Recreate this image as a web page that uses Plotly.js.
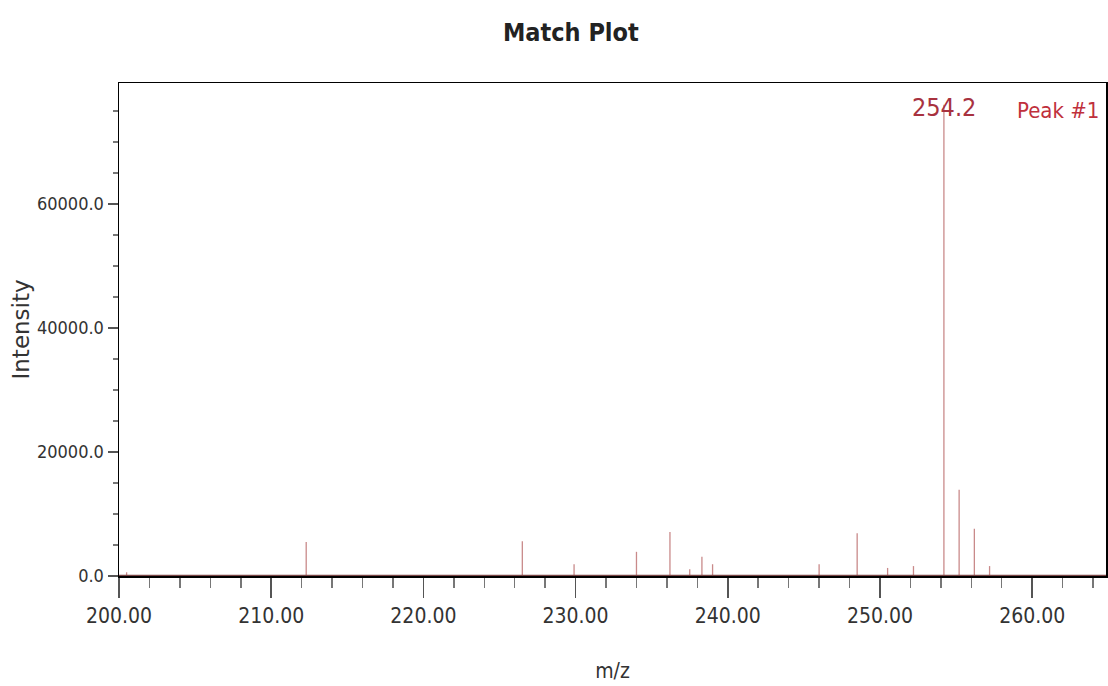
<!DOCTYPE html>
<html>
<head>
<meta charset="utf-8">
<script src="https://cdn.plot.ly/plotly-3.0.1.min.js"></script>
<style>html,body{margin:0;padding:0;background:#fff;}#chart{width:1108px;height:686px;}</style>
</head>
<body>
<div id="chart"></div>
<script>
// m/z values of the peaks and their intensities
var mz = [200.5, 212.3, 226.5, 229.9, 234.0, 236.2, 237.5, 238.3, 239.0, 246.0, 248.5, 250.5, 252.2, 254.2, 255.2, 256.2, 257.2];
var intensity = [600, 5500, 5600, 1900, 3900, 7100, 1100, 3100, 1900, 1900, 6900, 1300, 1600, 76000, 13900, 7600, 1600];
var xTickVals = [200, 210, 220, 230, 240, 250, 260];
var yTickVals = [0, 20000, 40000, 60000];
var peakLabel = "254.2";
var peakName = "Peak #1";
var yTitle = "Intensity";

var NARROW = '"DejaVu Sans Condensed", "Liberation Sans Narrow", "Arial Narrow", sans-serif';

var sx = [], sy = [];
for (var i = 0; i < mz.length; i++) {
  sx.push(mz[i], mz[i], null);
  sy.push(0, intensity[i], null);
}

var stems = {
  x: sx, y: sy, type: 'scatter', mode: 'lines',
  line: {color: '#c98a8a', width: 1.3},
  hoverinfo: 'skip', showlegend: false
};
var baseline = {
  x: [200, 264.85], y: [0, 0], type: 'scatter', mode: 'lines',
  line: {color: '#7a4545', width: 2.5},
  hoverinfo: 'skip', showlegend: false, cliponaxis: false
};

var layout = {
  width: 1108, height: 686,
  margin: {l: 119, r: 2, t: 83, b: 110},
  paper_bgcolor: '#ffffff', plot_bgcolor: '#ffffff',
  title: {text: '<b>Match Plot</b>', x: 0.5152, xanchor: 'center', y: 0.953, yanchor: 'middle',
          font: {family: NARROW, size: 25, color: '#222', weight: 'bold'}},
  xaxis: {
    range: [200, 264.85], tickvals: xTickVals, tickformat: '.2f',
    ticks: 'outside', ticklen: 20, tickwidth: 1.5, tickcolor: '#555',
    minor: {dtick: 2, tick0: 200, ticks: 'outside', ticklen: 10, tickwidth: 1.5, tickcolor: '#777'},
    showgrid: false, zeroline: false, showline: true, linecolor: '#000', linewidth: 1.5, mirror: true,
    tickfont: {family: NARROW, size: 21, color: '#333'},
    title: {text: 'm/z', font: {family: NARROW, size: 21, color: '#333'}, standoff: 36}
  },
  yaxis: {
    range: [0, 79500], tickvals: yTickVals, tickformat: '.1f',
    ticks: 'outside', ticklen: 10, tickwidth: 1.5, tickcolor: '#555',
    minor: {dtick: 5000, tick0: 0, ticks: 'outside', ticklen: 5, tickwidth: 1.5, tickcolor: '#777'},
    showgrid: false, zeroline: false, showline: true, linecolor: '#000', linewidth: 1.5, mirror: true,
    tickfont: {family: NARROW, size: 18, color: '#333'}
  },
  annotations: [
    {x: -0.0993, xref: 'paper', y: 0.5, yref: 'paper', text: yTitle, showarrow: false, textangle: -90,
     xanchor: 'center', yanchor: 'middle', font: {family: '"DejaVu Sans", sans-serif', size: 23, color: '#333'}},
    {x: peakLabel * 1, xref: 'x', y: 0.951, yref: 'paper', text: peakLabel, showarrow: false,
     xanchor: 'center', yanchor: 'middle', font: {family: NARROW, size: 25, color: '#a8323f'}},
    {x: 0.951, xref: 'paper', y: 0.945, yref: 'paper', text: peakName, showarrow: false,
     xanchor: 'center', yanchor: 'middle', font: {family: NARROW, size: 22, color: '#c0303c'}}
  ]
};

Plotly.newPlot('chart', [stems, baseline], layout, {displayModeBar: false, staticPlot: true});
</script>
</body>
</html>
